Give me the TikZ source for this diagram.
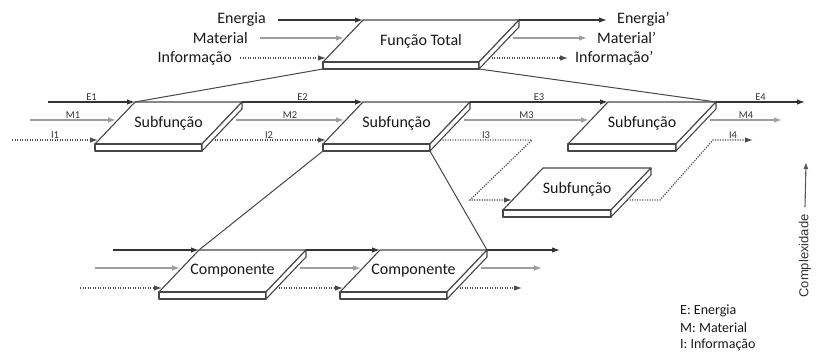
\documentclass[tikz,border=0pt]{standalone}
\usepackage{fontspec}
\setmainfont{Carlito}
\newfontfamily\arialfont{Liberation Sans}
\usetikzlibrary{arrows.meta,positioning}

\begin{document}
\begin{tikzpicture}[x=1pt,y=-1pt]

  % Define styles for the slabs and for the three kinds of flow
  \tikzset{
    slabface/.style={draw=black!72, line width=1.1pt, fill=white, line join=round},
    slabtext/.style={font=\fontsize{16}{18}\selectfont, text=black!90},
    flow/.style={line width=1.2pt, -{Latex[length=8pt,width=5.5pt]}},
    eflow/.style={flow, black!80},
    mflow/.style={flow, black!38},
    iflow/.style={flow, black!70, dash pattern=on 1.2pt off 1.3pt},
    tie/.style={line width=1pt, black!72},
    lbl/.style={font=\fontsize{16}{18}\selectfont, text=black!90, inner sep=2pt},
    rowlbl/.style={font=\fontsize{10.5}{12}\selectfont, text=black!80, inner sep=1pt, above},
    legend/.style={font=\fontsize{14}{15}\selectfont, text=black!90, anchor=west, inner sep=0pt},
    pics/slab/.style n args={2}{code={
      \path[slabface] (0,0) coordinate (-tl) -- (#1,0) coordinate (-tr)
        -- ({#1-40},42) coordinate (-br) -- (-40,42) coordinate (-bl) -- cycle;
      \path[slabface] (-40,42) -- ({#1-40},42) -- ({#1-40},49) coordinate (-fbr)
        -- (-40,49) coordinate (-fbl) -- cycle;
      \path[slabface] ({#1-40},42) -- (#1,0) -- (#1,7) -- ({#1-40},49) -- cycle;
      \node[slabtext] (-txt) at ({#1/2-20},21) {#2};
      \coordinate (-min) at (-19,18);
      \coordinate (-iin) at (-37,38);
      \coordinate (-lin) at (-31,32);
      \coordinate (-mout) at ({#1-6},18);
      \coordinate (-iout) at ({#1-30},38);
      \coordinate (-lout) at ({#1-24},32);
    }}
  }
  \useasboundingbox (0,0) rectangle (827,353);

  % Draw the slabs
  \pic (F) at (363,20) {slab={156}{Função Total}};
  \pic (S1) at (135,102) {slab={107}{Subfunção}};
  \pic (S2) at (363,102) {slab={107}{Subfunção}};
  \pic (S3) at (608,102) {slab={108}{Subfunção}};
  \pic (S4) at (543,168) {slab={108}{Subfunção}};
  \pic (C1) at (199,250) {slab={107}{Componente}};
  \pic (C2) at (380,250) {slab={107}{Componente}};

  % Draw lines between the levels
  \draw[tie] (F-fbl) -- (S1-tl);
  \draw[tie] (F-fbr) -- (S3-tr);
  \draw[tie] (S2-fbl) -- (C1-tl);
  \draw[tie] (S2-fbr) -- (C2-tr);

  % Total function
  \coordinate (eIn) at (278,20);
  \coordinate (mIn) at (260,38);
  \coordinate (iIn) at (240,58);
  \coordinate (eOut) at (607,20);
  \coordinate (mOut) at (587,38);
  \coordinate (iOut) at (568,58);
  \node[lbl, left=10pt of eIn, yshift=1pt] (lEn) {Energia};
  \node[lbl, left=10pt of mIn] (lMa) {Material};
  \node[lbl, left=6pt of iIn] (lIn) {Informação};
  \node[lbl, right=8pt of eOut, yshift=1pt] (lEo) {Energia’};
  \node[lbl, right=8pt of mOut] (lMo) {Material’};
  \node[lbl, right=5pt of iOut] (lIo) {Informação’};
  \draw[eflow] (eIn) -- (F-tl);
  \draw[mflow] (mIn) -- (F-min);
  \draw[iflow] (iIn) -- (F-iin);
  \draw[eflow] (F-tr) -- (eOut);
  \draw[mflow] (F-mout) -- (mOut);
  \draw[iflow] (F-iout) -- (iOut);

  % Subfunctions
  \coordinate (e1) at (48,102);
  \coordinate (m1) at (30,120);
  \coordinate (i1) at (12,140);
  \coordinate (e4) at (805,102);
  \coordinate (m4) at (782,120);
  \coordinate (i3a) at (532,140);
  \coordinate (i3b) at (470,200);
  \coordinate (i4a) at (660,200);
  \coordinate (i4b) at (713,140);
  \coordinate (i4) at (753,140);
  \draw[eflow] (e1) -- node[rowlbl] (lE1) {E1} (S1-tl);
  \draw[eflow] (S1-tr) -- node[rowlbl] (lE2) {E2} (S2-tl);
  \draw[eflow] (S2-tr) -- node[rowlbl] (lE3) {E3} (S3-tl);
  \draw[eflow] (S3-tr) -- node[rowlbl] (lE4) {E4} (e4);
  \draw[mflow] (m1) -- node[rowlbl] (lM1) {M1} (S1-min);
  \draw[mflow] (S1-mout) -- node[rowlbl] (lM2) {M2} (S2-min);
  \draw[mflow] (S2-mout) -- node[rowlbl] (lM3) {M3} (S3-min);
  \draw[mflow] (S3-mout) -- node[rowlbl] (lM4) {M4} (m4);
  \draw[iflow] (i1) -- node[rowlbl] (lI1) {I1} (S1-iin);
  \draw[iflow] (S1-iout) -- node[rowlbl] (lI2) {I2} (S2-iin);
  \draw[iflow] (S2-iout) -- node[rowlbl] (lI3) {I3} (i3a) -- (i3b) -- (S4-lin);
  \draw[iflow] (S4-lout) -- (i4a) -- (i4b) -- node[rowlbl] (lI4) {I4} (i4);

  % Components
  \coordinate (ce) at (113,250);
  \coordinate (cm) at (95,268);
  \coordinate (ci) at (80,288);
  \coordinate (ceo) at (560,250);
  \coordinate (cmo) at (542,268);
  \coordinate (cio) at (522,288);
  \draw[eflow] (ce) -- (C1-tl);
  \draw[eflow] (C1-tr) -- (C2-tl);
  \draw[eflow] (C2-tr) -- (ceo);
  \draw[mflow] (cm) -- (C1-min);
  \draw[mflow] (C1-mout) -- (C2-min);
  \draw[mflow] (C2-mout) -- (cmo);
  \draw[iflow] (ci) -- (C1-iin);
  \draw[iflow] (C1-iout) -- (C2-iin);
  \draw[iflow] (C2-iout) -- (cio);

  % Complexity axis and legend
  \node[font=\arialfont\fontsize{13}{15}\selectfont, rotate=90, text=black!80, outer sep=4pt] (cplx) at (805,256) {Complexidade};
  \coordinate (cTop) at (806,162);
  \draw[line width=1.1pt, black!65, -{Latex[length=7pt,width=5pt]}] (cplx.east) -- (cTop);
  \node[legend] (legE) at (680,311) {E: Energia};
  \node[legend] (legM) at (680,328) {M: Material};
  \node[legend] (legI) at (680,345) {I: Informação};

\end{tikzpicture}
\end{document}
